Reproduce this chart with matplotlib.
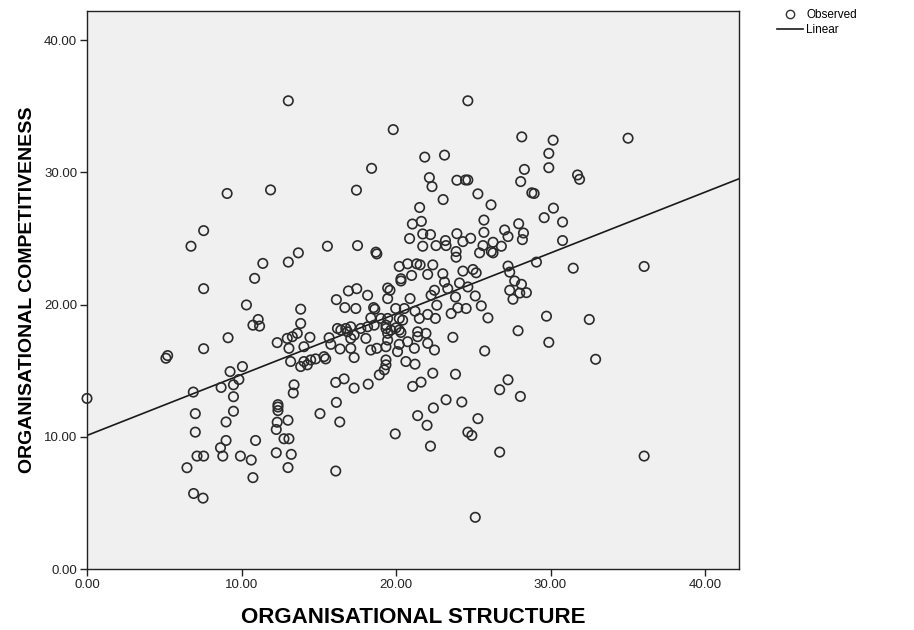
import numpy as np
import matplotlib
matplotlib.use("Agg")
import matplotlib.pyplot as plt
from matplotlib.lines import Line2D

org_structure = [
    9.07, 11.88, 7.55,
    13.03, 19.82, 21.86, 23.14, 18.42, 22.16, 22.33, 23.94, 17.44, 23.05, 21.53, 21.06, 21.64, 20.88, 21.73, 22.23, 23.94, 24.33, 23.20,
    24.65, 28.14, 30.17, 35.02, 29.89, 29.89, 28.31, 28.07, 31.75, 31.88, 24.50, 24.65, 25.30, 28.79, 28.94, 26.15, 30.19, 29.59, 30.78,
    25.69, 27.94, 25.69, 27.03, 27.25, 28.25, 28.18, 30.78, 24.83, 26.28,
    6.73, 11.38, 10.85, 7.55, 10.32, 11.08, 10.74, 11.17, 9.13, 7.55, 5.22, 5.11, 10.06, 9.26, 9.83, 9.48, 8.68, 6.88,
    0.0, 9.48, 7.01, 9.48, 9.00, 7.01, 9.00, 10.91, 8.64, 7.12, 7.55, 8.79, 9.93, 10.63, 6.47, 10.74, 6.90, 7.51,
    15.56, 17.51, 18.70, 18.76, 13.68, 13.03, 21.73, 22.59, 23.24, 23.89, 23.89,
    20.21, 20.75, 21.34, 21.56, 22.38, 20.32, 20.32, 21.01, 22.05, 23.03, 24.33, 23.14, 24.11,
    16.92, 17.46, 18.16, 19.46, 19.61, 19.46, 20.91, 22.27, 22.49, 23.35, 23.85,
    16.14, 16.69, 17.40, 18.55, 18.63, 19.98, 20.54, 21.23, 21.51, 22.05, 22.64, 22.55, 23.57, 24.00, 24.54,
    13.83, 13.83, 18.37, 19.02, 19.46, 19.35, 20.21, 20.43,
    17.07, 16.75, 16.86, 16.43, 16.21, 17.72, 18.16, 17.29, 18.59, 19.35, 19.67, 20.00, 20.21, 20.32, 19.46, 21.40, 21.40, 21.94, 23.68,
    12.31, 12.96, 13.29, 13.61, 14.43, 13.07, 14.04, 15.67, 15.78, 16.38, 17.07, 17.07, 17.29, 18.05, 18.37, 18.76, 19.35, 19.46, 20.21,
    20.75, 21.19, 22.05, 22.49, 20.10,
    13.18, 14.04, 14.48, 14.80, 15.34, 15.45, 13.83, 14.26, 19.35, 19.35, 19.24, 18.92, 20.64, 21.23, 22.38, 23.85,
    16.10, 16.64, 17.29, 18.20, 21.08, 21.62, 13.40, 13.35,
    25.63, 26.82, 25.41, 26.17, 26.28, 29.09, 27.25, 27.36, 31.47, 36.06, 24.98, 25.19, 27.68, 28.12, 27.36, 28.01, 28.44, 27.57,
    24.65, 25.13, 25.52, 25.95, 27.90, 29.74, 32.51, 29.89, 25.74, 32.92, 27.25, 26.71,
    12.36, 12.36, 12.36, 15.08, 16.14, 16.36, 12.31, 13.01, 12.25, 12.75, 13.07, 12.25, 13.22, 13.01, 16.10, 19.95, 21.40, 22.42,
    23.24, 24.26, 22.01, 22.23,
    28.05, 25.30, 24.65, 24.91, 26.71, 36.06, 25.13,
]
org_competitiveness = [
    28.40, 28.67, 25.59,
    35.41, 33.23, 31.15, 31.30, 30.30, 29.60, 28.92, 29.40, 28.65, 27.94, 27.34, 26.09, 26.29, 24.99, 25.34, 25.29, 25.36, 24.76, 24.84,
    35.41, 32.68, 32.43, 32.58, 31.43, 30.35, 30.22, 29.30, 29.80, 29.47, 29.42, 29.42, 28.37, 28.45, 28.40, 27.54, 27.29, 26.57, 26.24,
    26.39, 26.11, 25.46, 25.64, 25.14, 25.41, 24.91, 24.84, 25.01, 24.71,
    24.41, 23.11, 21.98, 21.20, 19.97, 18.87, 18.44, 18.37, 17.49, 16.66, 16.14, 15.94, 15.31, 14.93, 14.33, 13.93, 13.73, 13.38,
    12.90, 13.03, 11.75, 11.93, 11.12, 10.35, 9.72, 9.72, 9.17, 8.54, 8.54, 8.54, 8.54, 8.24, 7.66, 6.91, 5.71, 5.36,
    24.41, 24.46, 23.96, 23.83, 23.91, 23.21, 24.41, 24.46, 24.46, 24.01, 23.58,
    22.88, 23.08, 23.08, 23.00, 23.00, 21.95, 21.78, 22.20, 22.28, 22.33, 22.53, 21.70, 21.63,
    21.03, 21.20, 20.70, 21.25, 21.08, 20.45, 20.45, 20.70, 21.08, 21.20, 20.57,
    20.37, 19.77, 19.70, 19.77, 19.65, 19.70, 19.70, 19.50, 18.95, 19.25, 19.95, 18.95, 19.32, 19.75, 19.70,
    19.65, 18.57, 18.99, 18.95, 18.95, 18.44, 18.95, 18.82,
    18.32, 18.19, 17.94, 18.07, 18.19, 18.19, 18.32, 17.69, 18.44, 18.19, 18.07, 18.24, 18.07, 17.89, 17.82, 17.94, 17.57, 17.82, 17.52,
    17.12, 17.44, 17.57, 17.82, 17.52, 16.69, 16.81, 17.49, 16.99, 16.64, 17.44, 16.69, 15.99, 17.44, 16.56, 16.69, 16.81, 17.32, 16.99,
    17.19, 16.69, 17.07, 16.56, 16.44,
    15.69, 15.69, 15.81, 15.89, 16.06, 15.89, 15.31, 15.44, 15.81, 15.44, 15.06, 14.68, 15.69, 15.49, 14.81, 14.73,
    14.11, 14.38, 13.68, 13.98, 13.81, 14.13, 13.93, 13.31,
    24.46, 24.41, 23.91, 24.01, 23.91, 23.21, 22.91, 22.45, 22.75, 22.88, 22.65, 22.40, 21.78, 21.53, 21.08, 20.87, 20.90, 20.40,
    21.33, 20.65, 19.90, 18.99, 18.02, 19.12, 18.87, 17.14, 16.49, 15.86, 14.31, 13.56,
    12.43, 12.25, 11.98, 11.75, 12.60, 11.12, 11.10, 11.25, 10.55, 9.85, 9.85, 8.79, 8.67, 7.67, 7.41, 10.22, 11.60, 12.18,
    12.80, 12.63, 10.87, 9.29,
    13.05, 11.37, 10.35, 10.10, 8.84, 8.54, 3.91,
]

# linear fit as shown on the chart
fit_intercept = 10.1
fit_slope = 0.46

tick_values = [0, 10, 20, 30, 40]
axis_max = 42.2

plt.rcParams["font.family"] = ["Liberation Sans", "DejaVu Sans"]

fig = plt.figure(figsize=(9.14, 6.30), dpi=100)
ax = fig.add_axes([87 / 914, 61 / 630, 652 / 914, 558 / 630])
ax.set_facecolor("#f0f0f0")

ax.scatter(org_structure, org_competitiveness, s=46, facecolors="none",
           edgecolors="#2b2b2b", linewidths=1.2, zorder=3, clip_on=False)

xl = np.array([0, axis_max])
ax.plot(xl, fit_intercept + fit_slope * xl, color="#1a1a1a", linewidth=1.2, zorder=2)

ax.set_xlim(0, axis_max)
ax.set_ylim(0, axis_max)
ax.set_xticks(tick_values)
ax.set_yticks(tick_values)
ax.set_xticklabels([f"{v:.2f}" for v in tick_values])
ax.set_yticklabels([f"{v:.2f}" for v in tick_values])
ax.tick_params(direction="out", length=5, width=1, labelsize=9.5, colors="#222222", pad=2)
for sp in ax.spines.values():
    sp.set_linewidth(1.0)
    sp.set_color("#222222")

ax.set_xlabel("ORGANISATIONAL STRUCTURE", fontsize=16, fontweight="bold", labelpad=12)
ax.set_ylabel("ORGANISATIONAL COMPETITIVENESS", fontsize=14, fontweight="bold", labelpad=6)

handles = [
    Line2D([], [], marker="o", linestyle="none", markerfacecolor="none",
           markeredgecolor="#333333", markersize=6, markeredgewidth=1.0),
    Line2D([], [], color="#1a1a1a", linewidth=1.2),
]
fig.legend(handles, ["Observed", "Linear"], loc="upper left",
           bbox_to_anchor=(772 / 914, 1 - 4 / 630), frameon=False, fontsize=8.5,
           handlelength=2.2, handletextpad=0.3, labelspacing=0.3, borderaxespad=0)

fig.savefig("out.png", dpi=100)
